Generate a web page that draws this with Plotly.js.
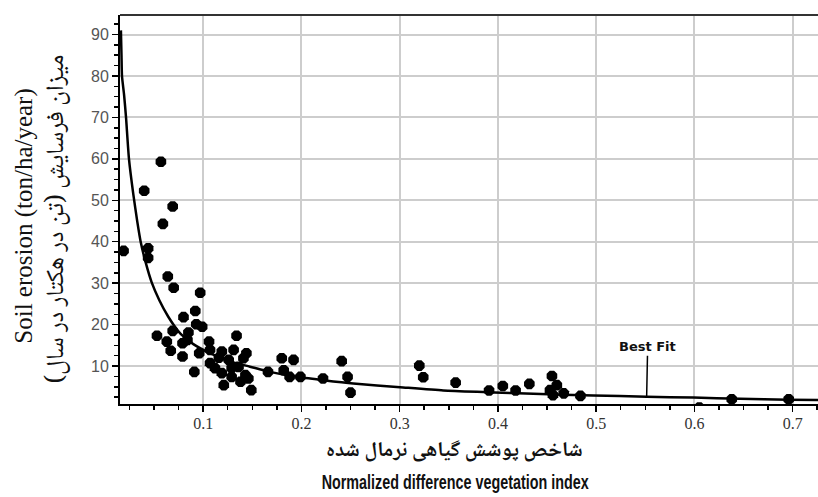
<!DOCTYPE html>
<html>
<head>
<meta charset="utf-8">
<script src="https://cdn.plot.ly/plotly-3.0.1.min.js"></script>
<style>html,body{margin:0;padding:0;background:#fff;}#chart{width:818px;height:497px;}</style>
</head>
<body>
<div id="chart"></div>
<script>
// Observed points: NDVI vs soil erosion (ton/ha/year)
const ndvi = [0.019,0.040,0.057,0.069,0.059,0.044,0.044,0.064,0.070,0.097,0.092,0.080,0.093,0.099,
  0.053,0.063,0.069,0.085,0.067,0.079,0.079,0.084,0.091,0.096,0.106,0.107,0.107,0.119,0.126,0.131,
  0.134,0.119,0.121,0.129,0.129,0.136,0.141,0.144,0.143,0.146,0.149,0.166,0.180,0.192,0.182,0.188,
  0.199,0.112,0.138,0.116,0.222,0.241,0.247,0.250,0.320,0.324,0.357,0.391,0.405,0.418,0.432,0.455,
  0.453,0.460,0.456,0.467,0.484,0.605,0.638,0.696];
const erosion = [37.8,52.3,59.3,48.5,44.3,38.4,36.1,31.6,28.9,27.7,23.3,21.8,20.1,19.5,
  17.3,15.9,18.5,18.1,13.7,15.5,12.3,16.3,8.6,13.1,15.9,13.9,10.7,13.5,11.5,13.9,
  17.3,8.3,5.4,9.5,7.4,9.8,11.9,13.1,7.8,7.0,4.2,8.6,11.9,11.5,9.0,7.4,
  7.4,9.5,6.2,12.0,7.0,11.2,7.4,3.6,10.1,7.3,6.0,4.1,5.2,4.1,5.7,7.6,
  4.2,5.4,3.0,3.4,2.8,0.0,2.0,2.0];
// Best-fit curve
const fitNdvi = [0.0163,0.0169,0.0174,0.0195,0.0215,0.0245,0.0289,0.033,0.0364,0.0415,0.0476,0.0554,
  0.0645,0.0713,0.0782,0.09,0.107,0.1273,0.1477,0.168,0.1952,0.2223,0.2528,0.3004,0.3444,0.3886,
  0.436,0.4971,0.5514,0.599,0.6464,0.6956,0.726];
const fitErosion = [91,85,80,75.5,70,60,51.5,44.8,40,35,30.2,25.9,
  21.9,19.5,17.5,15.3,13.1,11.1,9.85,8.6,7.4,6.6,5.8,4.9,4.1,3.7,
  3.3,2.9,2.6,2.4,2.1,1.9,1.8];
const xTickVals = [0.1,0.2,0.3,0.4,0.5,0.6,0.7];
const xTickText = ['0.1','0.2','0.3','0.4','0.5','0.6','0.7'];
const yTickVals = [10,20,30,40,50,60,70,80,90];
const yTickText = ['10','20','30','40','50','60','70','80','90'];
const labelIdx = 28;

const SERIF = 'Liberation Serif';
const SANS = 'Liberation Sans';
const ARABIC = 'Noto Naskh Arabic';

const traces = [
  {x: fitNdvi, y: fitErosion, type:'scatter', mode:'lines', line:{color:'#000', width:2.5, shape:'spline', smoothing:0.6},
   hoverinfo:'skip', showlegend:false},
  {x: ndvi, y: erosion, type:'scatter', mode:'markers',
   marker:{symbol:'octagon', size:11.5, color:'#000', line:{width:0}}, showlegend:false}
];

const layout = {
  width:818, height:497,
  margin:{l:120, r:0, t:15, b:93},
  paper_bgcolor:'#fff', plot_bgcolor:'#fff',
  showlegend:false,
  xaxis:{range:[0.01537,0.7258], tickvals:xTickVals, ticktext:xTickText,
    showgrid:true, gridcolor:'#cdcdcd', gridwidth:2, zeroline:false,
    showline:true, linecolor:'#000', linewidth:2,
    ticks:'outside', ticklen:6, tickcolor:'#000', tickwidth:1.5, ticklabelstandoff:-2,
    minor:{dtick:0.025, tick0:0, ticks:'outside', ticklen:4, tickcolor:'#000', tickwidth:1.5, showgrid:false},
    tickfont:{family:SERIF, size:16, color:'#333'}},
  yaxis:{range:[0.845,94.71], tickvals:yTickVals, ticktext:yTickText,
    showgrid:true, gridcolor:'#cdcdcd', gridwidth:2, zeroline:false,
    showline:true, linecolor:'#000', linewidth:2,
    ticks:'outside', ticklen:6, tickcolor:'#000', tickwidth:1.5,
    minor:{dtick:2.5, tick0:0, ticks:'outside', ticklen:4, tickcolor:'#000', tickwidth:1.5, showgrid:false},
    tickfont:{family:SANS, size:16, color:'#555'}},
  shapes:[{type:'line', xref:'paper', yref:'paper', x0:0, x1:1, y0:1, y1:1,
    line:{color:'#333', width:2}}],
  annotations:[
    {x:fitNdvi[labelIdx], y:fitErosion[labelIdx], xref:'x', yref:'y', text:'<b>Best Fit</b>',
     showarrow:true, arrowhead:0, arrowwidth:1.5, arrowcolor:'#000', ax:1, ay:-50, standoff:0,
     font:{family:'DejaVu Sans', size:13, color:'#111'}},
    {xref:'paper', yref:'paper', x:0, y:0.484, xshift:-96, xanchor:'center', yanchor:'middle',
     textangle:-90, showarrow:false, text:'Soil erosion (ton/ha/year)',
     font:{family:SERIF, size:25, color:'#111'}},
    {xref:'paper', yref:'paper', x:0, y:0.474, xshift:-62, xanchor:'center', yanchor:'middle',
     textangle:-90, showarrow:false, text:'میزان فرسایش (تن در هکتار در سال)',
     font:{family:ARABIC, size:25, color:'#111'}},
    {xref:'paper', yref:'paper', x:0.4796, y:0, yshift:-47, xanchor:'center', yanchor:'middle',
     showarrow:false, text:'<b>شاخص پوشش گیاهی نرمال شده</b>',
     font:{family:ARABIC, size:21, color:'#111'}},
    {xref:'paper', yref:'paper', x:0.4796, y:0, yshift:-78, xanchor:'center', yanchor:'middle',
     showarrow:false, text:'<b>Normalized difference vegetation index</b>',
     font:{family:SANS, size:20, color:'#111'}}
  ]
};

Plotly.newPlot('chart', traces, layout, {displayModeBar:false, staticPlot:true}).then(function(gd){
  // condense the English x title to the narrow width of the original
  const texts = gd.querySelectorAll('.annotation-text');
  texts.forEach(function(t){
    if (t.textContent.indexOf('Normalized') === 0) {
      t.setAttribute('textLength', '267');
      t.setAttribute('lengthAdjust', 'spacingAndGlyphs');
    }
  });
});
</script>
</body>
</html>
